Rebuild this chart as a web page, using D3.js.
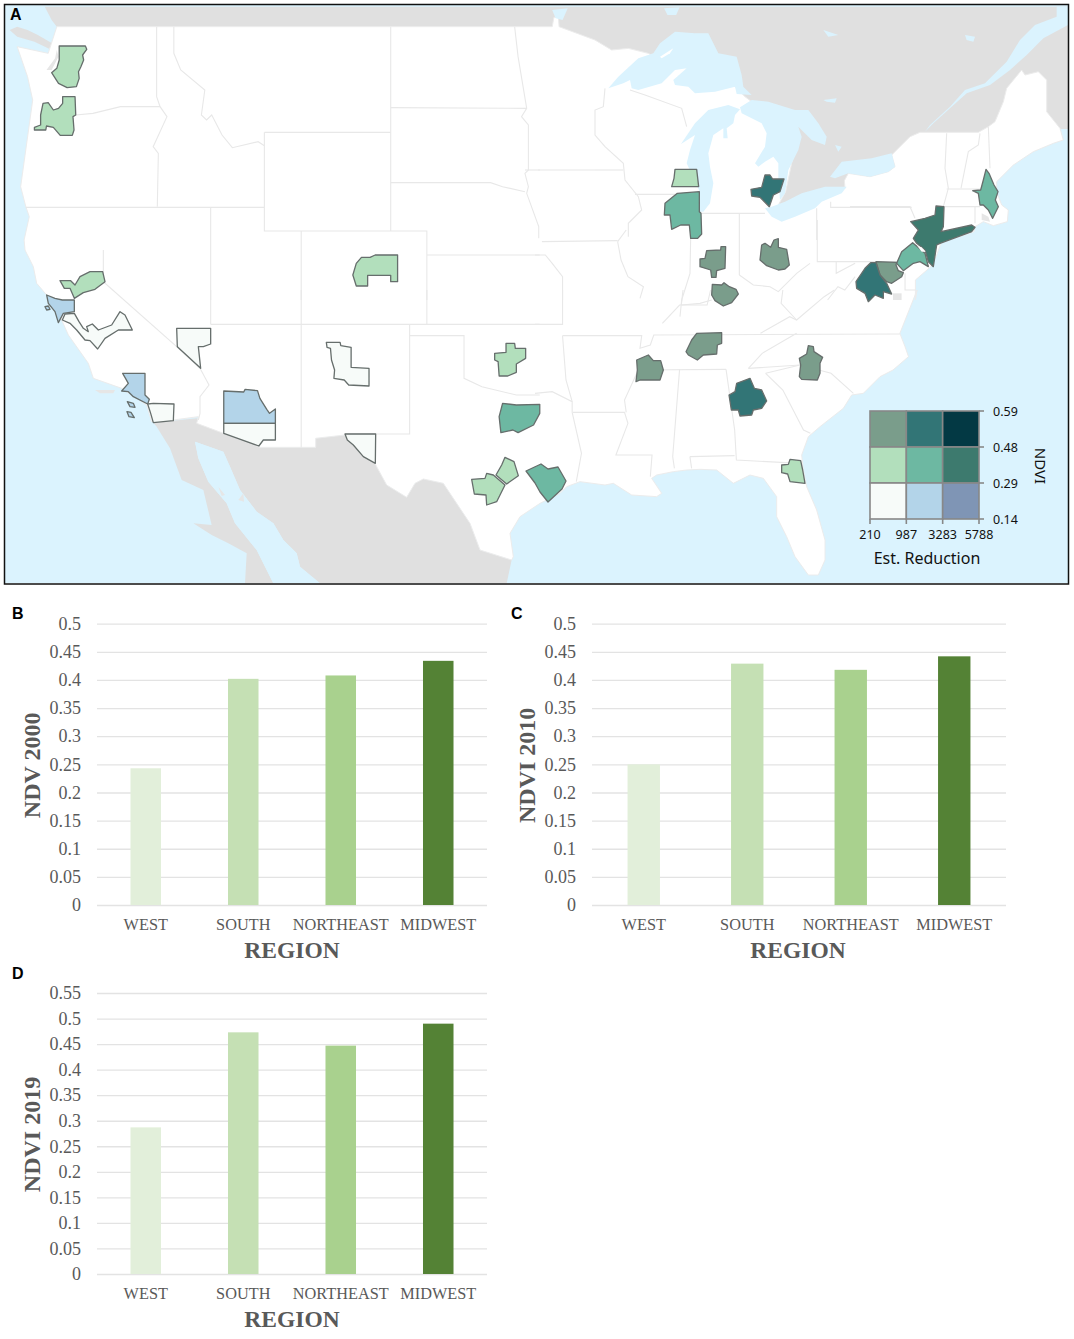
<!DOCTYPE html>
<html><head><meta charset="utf-8"><style>html,body{margin:0;padding:0;background:#fff}svg{display:block}</style>
<script src="https://cdn.jsdelivr.net/npm/d3@7/dist/d3.min.js"></script></head><body>
<svg id="c" width="1074" height="1339"></svg>
<script>
// ---------- bar chart data ----------
const regions=["WEST","SOUTH","NORTHEAST","MIDWEST"];
const ndvi2000=[0.243,0.402,0.408,0.434];
const ndvi2010=[0.25,0.429,0.418,0.442];
const ndvi2019=[0.287,0.473,0.447,0.49];
const barColors=["#e2efda","#c5e0b4","#a9d18e","#548235"];
const ticksBC=[0,0.05,0.1,0.15,0.2,0.25,0.3,0.35,0.4,0.45,0.5];
const ticksD=[0,0.05,0.1,0.15,0.2,0.25,0.3,0.35,0.4,0.45,0.5,0.55];
// ---------- bivariate legend ----------
const legendColors=[["#7a9d8b","#327576","#033944"],["#b2dfbc","#6db8a2","#3d7a6e"],["#f7fbf9","#b3d4e9","#7f95b5"]];
const legendX=["210","987","3283","5788"];
const legendY=["0.59","0.48","0.29","0.14"];
// ---------- map geometry: [panel, flat x,y list] (panel = read-off frame of the picture) ----------
const usOutline=[
["Z1",[50,140,140,160,165,80,1568,80]],
["Z2",[50,80,55,52,68,52,70,80]],
["G1",[0,60,50,90,100,85,160,100,200,125,300,150,400,180,450,230,470,245,520,285,600,310,610,360,590,430,572,515,550,555,560,565,600,570,680,525,750,505,748,482,760,460,825,470,880,455,900,440]],
["G2",[125,450,180,395,210,382,385,382,415,365,435,350,460,290,470,250,515,195,525,210,565,200,590,225,590,320,610,345,630,370,640,405,610,415,550,440,520,460,490,480,440,530,440,560,455,600,475,615,472,650,430,662,400,650,375,665,372,680]],
["Z2",[1180,728,1165,770,1150,800,1105,840,1105,900]],
["Z4",[1110,0,1060,130,1075,170,1085,200,1040,240]],
["G4",[960,140,910,190,875,195,850,235,780,290,745,320,725,375,730,420,740,470,770,540,795,630,795,690,775,735,745,735,705,680,680,620,650,560,650,500,610,445,570,435,520,460,470,420,420,418,380,420,340,425,290,435,275,445,305,490,290,500,215,495,160,460,135,465,60,455,20,470,0,490]],
["G6",[1200,280,1140,320,1110,370,1120,440,1115,450,1020,420,990,340,910,220,850,207,825,220,800,262,740,225,710,170,705,160,615,75,527,85,527,112,360,112,250,70,170,40,175,20,100,30]],
["G5",[440,515,425,465,350,415,265,385,250,340,190,255,170,210,130,160,125,135,95,100,85,50,60,0]],
["Z1",[70,720,85,650,75,620,60,560,95,300,80,230]]];
const canada=[["Z1",[130,20]],["G2",[620,5,654,5,654,372,630,372,560,330,450,420,200,450]],["G1",[700,540,530,600,300,300,0,150]],["Z1",[1400,150,165,150,165,80,150,60]]];
const vancouverIsland=[["Z1",[28,90,50,80,80,90,110,105,160,135,150,150,100,125,50,110]]];
const mexico=[["G6",[40,38,170,25,250,70,360,112,527,112,527,85,615,75,705,160,740,225,800,262,825,220,850,207,910,220,990,340,1020,420,1115,450,1100,520,540,520,480,470,470,430,430,390,400,340,350,305,300,240,270,170,250,125,165,95,175,145,205,215,260,280,285,340,350,420,400,520,315,520,320,430,265,400,215,375,160,340,215,345,190,240,125,210,90,115,50,50]]];
const lakes=[
[["G1",[40,205,70,170,130,115,175,100,195,70,240,35,300,40,340,40,370,100,425,110,440,165,445,200,470,225,425,222,420,200,360,215,300,220,280,200,240,195,235,180,275,145,240,150,200,190,130,210,110,205,105,180,85,190]]],
[["G1",[258,372,300,310,340,270,400,255,435,268,420,285,415,310,395,325,398,355,385,355,385,325,355,345,340,400,345,440,355,490,345,550,325,575,310,575,312,510,275,430,285,390,300,345]]],
[["G1",[435,262,470,240,520,245,600,270,640,270,670,310,695,350,690,375,650,360,610,320,620,350,610,390,580,450,570,520,555,540,550,480,550,430,535,410,510,425,490,440,480,430,510,380,515,340,500,310,440,280]]],
[["G1",[510,565,530,560,570,545,620,520,690,500,755,500,740,520,680,545,660,565,600,590,560,605,530,590]]],
[["G1",[705,470,740,425,830,415,890,400,900,440,880,455,825,470,760,460,720,475]]],
[["G2",[620,5,654,5,654,60,580,100,530,150,480,195,420,240,350,265,300,310,250,355,225,380,240,360,300,305,345,255,405,235,470,170,510,105,555,60,620,35]]],
[["G2",[345,90,375,95,370,110,350,105]]],[["G1",[685,30,730,45,700,50]]],[["G1",[685,240,725,235,720,248,695,245]]],[["G1",[720,375,740,380,730,395]]],
[["Z2",[50,30,95,25,80,60,60,55]]],[["Z2",[375,25,420,22,410,45,385,45]]],
[["G6",[165,95,250,125,270,170,300,240,350,305,400,340,430,390,470,430,480,470,540,520,400,520,350,420,285,340,260,280,205,215,175,145]]]
];
const whiteIslands=[[["G1",[195,110,235,85,225,100,200,115]]]];
const greyPatches=[[["G2",[395,625,415,635,420,650,395,645]]],[["Z2",[1040,880,1065,880,1065,900,1040,900]]],[["G5",[270,420,330,420,325,430,285,430]]],[["G6",[235,230,255,255,245,258]]],[["G6",[295,270,310,250,312,275]]],[["Z1",[135,210,160,175,165,150,170,170,150,210]]]];
const stateLines=[
["Z1",[455,80,455,290,465,320,485,350,445,440,460,460,457,620]],["Z1",[220,345,270,340,350,320,465,320]],["Z1",[75,622,768,622]],
["Z1",[505,80,505,160,525,210,595,270,585,345,600,360,615,345,645,405,675,443,750,425,768,437]],["Z1",[768,397,1135,397]],["Z1",[768,397,768,693,1240,693,1240,900]],["Z1",[1135,80,1135,693]],
["Z1",[1135,323,1530,325]],["Z1",[1135,548,1425,548,1460,560,1525,575]],["Z1",[1495,80,1505,170,1530,325,1515,350,1535,375,1535,510,1525,520,1535,560,1530,580,1565,680,1565,715]],["Z1",[1525,510,1568,510]],
["Z1",[875,693,875,900]],["Z1",[1240,765,1568,765]],["G5",[295,0,295,95,515,290,585,355,612,405,585,440,585,490,580,510]],["Z1",[612,622,612,900]],
["Z3",[612,0,612,103]],["Z3",[875,0,875,473]],["Z3",[1240,0,1240,103]],["Z3",[612,103,1190,103,1568,103]],["Z3",[1190,105,1190,432,1000,432]],["Z3",[1190,137,1348,137,1348,265,1400,290,1500,315,1568,315]],
["Z4",[0,310,50,305,108,335,108,367,135,490,120,575]],["Z4",[0,103,80,103,80,0]],["Z4",[80,137,90,270,108,335]],["Z2",[0,765,30,765,50,790,80,830,80,900]],
["Z4",[80,137,310,137,305,175,335,165,345,135,1060,132]],["Z4",[300,240,555,238]],["Z4",[620,235,770,225,860,250,925,310]],["Z4",[620,235,660,190,760,130]],["Z4",[670,250,720,300,780,420,800,430]],["Z4",[670,250,770,225]],
["Z4",[555,238,580,420,585,510,770,520]],["Z4",[450,500,580,497]],["Z4",[450,500,455,535]],["Z4",[420,238,400,500,405,535]],["Z4",[110,367,260,367,270,400,235,495,340,495,335,560]],["Z4",[300,240,260,330,265,367]],
["Z2",[20,725,240,722]],["G3",[122,235,120,340,95,420,90,470]],["G3",[268,160,268,345]],["G3",[155,160,345,160]],["G3",[268,345,310,375,360,380,385,395,440,340,480,310]],["G3",[95,435,150,430,185,420]],
["G1",[665,565,665,660]],["G1",[707,545,707,562,950,562]],["G2",[0,605,180,605,195,640]],["Z2",[820,660,820,785,1050,785]],
["G1",[30,205,25,260,0,270,0,345,30,380,85,430,90,480,130,530,140,570,100,610,100,650]],["G1",[105,210,150,225,260,265,275,320]],["G1",[120,523,240,523]],["G1",[0,450,85,450]],["G1",[0,450,-170,450]],
["Z2",[240,725,250,780,270,830,315,860,305,895]],["Z2",[265,690,240,725]],
["Z4",[425,45,430,0]],["Z4",[370,100,420,45,500,45,510,0]],["Z4",[720,0,715,40,760,90]],["Z4",[655,130,740,80,760,90,840,20,870,0]],["Z2",[850,900,880,860,900,870,930,830]],["Z2",[875,785,875,820,930,790]],["Z2",[1075,820,1075,870,1105,870]],
["G2",[290,385,285,490,295,550,280,605]],["G2",[390,385,385,420,355,440,333,550]],["G2",[415,365,420,490]],["G2",[290,552,395,552]],["G2",[285,605,390,605]],["G2",[375,605,375,655]]];
const metros=[
["l",["Z1",[172,138,248,138,252,148,240,165,243,180,235,200,228,215,230,235,222,260,195,263,170,250,150,218,165,205,172,180]]],
["l",["Z1",[182,290,218,290,220,345,212,350,215,390,210,406,175,406,155,382,135,378,133,390,100,390,100,382,118,375,118,345,125,310,140,308,155,330,170,325,182,310]]],
["l",["Z1",[1090,765,1155,765,1155,845,1135,845,1135,826,1068,826,1068,858,1035,858,1025,825,1035,790,1050,772,1075,772]]],
["l",["G5",[165,92,197,92,210,105,225,80,255,65,293,65,300,95,270,118,235,128,208,145,195,115,178,115]]],
["b",["G5",[125,135,150,145,172,150,208,150,208,185,175,190,160,218,150,185,130,160]]],
["b",["G5",[120,170,130,168,135,178,125,180]]],
["w",["G5",[172,210,180,192,208,190,222,215,235,235,250,245,245,230,262,222,280,240,320,225,345,185,360,195,382,240,340,240,300,265,278,297,255,272,240,270,215,240,195,220]]],
["w",["G5",[515,235,617,235,617,282,595,290,580,290,587,355,517,290]]],
["b",["G5",[353,370,420,370,420,435,433,448,428,462,385,440,370,425,350,423,370,400]]],
["b",["G5",[367,455,385,460,390,472,375,470]]],["b",["G5",[366,485,378,487,388,503,372,500]]],
["w",["G5",[428,462,445,460,507,462,505,512,445,518,437,490]]],
["b",["Z3",[650,303,708,306,712,298,748,302,755,325,775,358,783,370,800,357,800,400,650,400]]],
["w",["Z3",[650,400,800,400,800,450,765,450,752,468,650,430]]],
["w",["Z3",[948,157,988,157,990,167,1020,172,1020,232,1072,235,1072,288,1013,285,1000,270,970,265,972,240,963,210,960,175,950,172]]],
["w",["G6",[615,72,707,72,706,160,670,140,640,105,622,90]]],
["l",["Z3",[1470,160,1495,160,1497,175,1527,175,1527,205,1500,222,1500,247,1475,258,1450,258,1447,215,1437,210,1437,190,1470,187]]],
["m",["Z3",[1460,340,1500,345,1568,343,1568,370,1550,405,1505,428,1490,420,1455,428,1450,380]]],
["l",["G6",[1095,142,1122,155,1135,197,1100,222,1068,195,1085,165]]],
["l",["G6",[995,208,1035,205,1040,190,1060,195,1095,225,1070,275,1040,285,1038,255,1003,252]]],
["m",["Z0",[526,471,541,464,548,469,558,467,566,481,562,489,548,502,540,492,535,483]]],
["l",["G3",[75,28,140,28,146,80,65,80,72,55]]],
["m",["G3",[45,130,82,100,148,95,148,155,153,160,155,222,143,235,122,235,118,195,92,195,65,208,60,165,43,165]]],
["t",["G3",[345,45,360,45,368,57,402,57,390,95,370,105,358,140,330,112,305,108,303,88,335,82]]],
["g",["G3",[150,297,165,295,170,272,212,270,213,260,227,260,225,325,200,332,198,352,185,352,182,330,150,320]]],
["g",["G3",[335,255,345,250,362,262,372,240,385,236,385,262,410,268,418,315,405,327,385,330,350,317,330,300]]],
["g",["G3",[187,373,215,375,222,368,238,380,258,388,265,402,245,428,220,438,195,422,185,405]]],
["d",["Z6",[288,168,312,170,310,230,303,245,395,225,405,232,395,245,300,280,290,285,280,350,265,335,255,300,230,280,220,265,235,240,212,215,255,205,285,195]]],
["m",["Z6",[218,278,255,310,265,350,240,335,220,340,190,362,170,340,185,305]]],
["g",["Z6",[108,335,170,337,168,345,175,362,190,368,185,380,155,400,140,395,120,375]]],
["t",["Z6",[92,338,108,338,120,375,140,400,155,432,130,425,130,445,105,435,85,455,75,430,50,415,48,395,75,355]]],
["m",["Z6",[438,58,447,70,462,105,474,125,466,150,475,170,458,205,445,180,430,165,420,165,415,130,398,122,422,120,430,90]]],
["g",["G4",[410,10,485,8,485,40,472,45,470,72,430,75,412,90,385,75,378,65,395,30]]],
["g",["G4",[230,90,265,75,280,92,302,92,310,120,300,150,240,150,228,155,232,120]]],
["g",["G4",[745,47,760,50,762,65,788,82,780,100,780,130,772,150,725,148,718,140,722,105,718,85,740,72]]],
["t",["G4",[530,160,570,145,583,175,605,180,620,213,605,235,580,240,575,255,540,258,535,240,514,240,507,195,525,185]]],
["l",["G4",[665,405,685,403,690,388,722,392,728,420,735,460,690,455,683,432,665,428]]]
];
const metroHoles=[["Z6",[232,288,245,292,257,305,245,305]]];
const metroFill={w:"#f7fbf9",b:"#b3d4e9",l:"#b2dfbc",m:"#6db8a2",g:"#7a9d8b",t:"#327576",d:"#3d7a6e"};

// ---------- drawing ----------
const svg=d3.select("#c");
const panelScales={};
function panel(name,ox,oy,kx,ky){panelScales[name]={x:d3.scaleLinear().domain([0,kx]).range([ox,ox+1]),y:d3.scaleLinear().domain([0,ky]).range([oy,oy+1])};}
panel("Z0",0,0,1,1);panel("Z1",0,0,2.905,3);panel("Z2",535,0,2.905,3);panel("Z3",0,290,2.905,3);panel("Z4",535,290,2.905,3);panel("Z6",840,150,3,3);
panel("G1",595,20,3,3);panel("G2",850,5,3,3);panel("G3",650,160,3,3);panel("G4",560,330,3,3);panel("G5",5,250,3,3);panel("G6",140,410,3,3);
function pts(segs){const out=[];segs.forEach(([p,a])=>{const s=panelScales[p];for(let i=0;i<a.length;i+=2)out.push([s.x(a[i]),s.y(a[i+1])]);});return out;}
const closed=d3.line().curve(d3.curveLinearClosed),open=d3.line();

const defs=svg.append("defs");
defs.append("clipPath").attr("id","mapclip").append("rect").attr("x",5).attr("y",5).attr("width",1063).attr("height",578);
const map=svg.append("g").attr("clip-path","url(#mapclip)");
map.append("rect").attr("x",4).attr("y",4).attr("width",1065).attr("height",580).attr("fill","#dbf3fe");
const grey="#e0e0e0";
map.append("path").attr("d",closed(pts(canada))).attr("fill",grey);
map.append("path").attr("d",closed(pts(vancouverIsland))).attr("fill",grey);
map.append("path").attr("d",closed(pts(mexico))).attr("fill",grey);
map.append("path").attr("d",closed(pts(usOutline))).attr("fill","#fff").attr("stroke","#ececec").attr("stroke-width",1);
map.selectAll("path.lake").data(lakes).join("path").attr("class","lake").attr("d",d=>closed(pts(d))).attr("fill","#dbf3fe");
map.selectAll("path.wi").data(whiteIslands).join("path").attr("class","wi").attr("d",d=>closed(pts(d))).attr("fill","#fff");
map.selectAll("path.gp").data(greyPatches).join("path").attr("class","gp").attr("d",d=>closed(pts(d))).attr("fill","#e6e6e6");
map.selectAll("path.st").data(stateLines).join("path").attr("class","st").attr("d",d=>open(pts([d]))).attr("fill","none").attr("stroke","#e8e8e8").attr("stroke-width",1.1);
map.selectAll("path.metro").data(metros).join("path").attr("class","metro").attr("d",d=>closed(pts([d[1]]))).attr("fill",d=>metroFill[d[0]]).attr("stroke","#666e6c").attr("stroke-width",1.3).attr("stroke-linejoin","round");
map.selectAll("path.hole").data(metroHoles).join("path").attr("class","hole").attr("d",d=>closed(pts([d]))).attr("fill","#fff");
svg.append("rect").attr("x",4.5).attr("y",4.5).attr("width",1064).attr("height",579.5).attr("fill","none").attr("stroke","#111").attr("stroke-width",1.5);

// legend
const legFont="'Noto Sans',sans-serif";
const lx=d3.scaleLinear().domain([0,3]).range([870,979]);
const ly=d3.scaleLinear().domain([0,3]).range([411,519]);
const lg=svg.append("g");
legendColors.forEach((row,r)=>row.forEach((c,i)=>{
  lg.append("rect").attr("x",lx(i)).attr("y",ly(r)).attr("width",lx(i+1)-lx(i)).attr("height",ly(r+1)-ly(r)).attr("fill",c).attr("stroke","#888").attr("stroke-width",1.6);
}));
legendY.forEach((t,i)=>{
  lg.append("line").attr("x1",979).attr("x2",984).attr("y1",ly(i)).attr("y2",ly(i)).attr("stroke","#888").attr("stroke-width",1.6);
  lg.append("text").attr("x",993).attr("y",ly(i)+4.5).text(t).attr("font-family",legFont).attr("font-size",12.5).attr("fill","#111");
});
legendX.forEach((t,i)=>{
  lg.append("line").attr("x1",lx(i)).attr("x2",lx(i)).attr("y1",519).attr("y2",524).attr("stroke","#888").attr("stroke-width",1.6);
  lg.append("text").attr("x",lx(i)).attr("y",539).attr("text-anchor","middle").text(t).attr("font-family",legFont).attr("font-size",12.5).attr("fill","#111");
});
lg.append("text").attr("x",927).attr("y",564).attr("text-anchor","middle").text("Est. Reduction").attr("font-family",legFont).attr("font-size",16).attr("fill","#111");
lg.append("text").attr("transform","translate(1035,466) rotate(90)").attr("text-anchor","middle").text("NDVI").attr("font-family",legFont).attr("font-size",15).attr("fill","#111");

// bar panels
const serif="'Liberation Serif',serif";
function barPanel(o){
  const x=d3.scaleBand().domain(regions).range([o.x0,o.x1]).paddingInner(0.687).paddingOuter(0.3435);
  const y=d3.scaleLinear().domain([0,o.max]).range([o.y0,o.y1]);
  const g=svg.append("g");
  const ax=g.append("g").attr("transform",`translate(${o.x0},0)`).call(d3.axisLeft(y).tickValues(o.ticks).tickFormat(d3.format("~g")).tickSize(-(o.x1-o.x0)).tickPadding(16));
  ax.select(".domain").remove();
  ax.selectAll("line").attr("stroke","#e3e3e3").attr("stroke-width",1.3);
  ax.selectAll("text").attr("font-family",serif).attr("font-size",18).attr("fill","#595959");
  g.selectAll("rect").data(regions).join("rect").attr("x",d=>x(d)).attr("width",x.bandwidth()).attr("y",(d,i)=>y(o.values[i])).attr("height",(d,i)=>o.y0-y(o.values[i])).attr("fill",(d,i)=>barColors[i]);
  const bx=g.append("g").attr("transform",`translate(0,${o.y0})`).call(d3.axisBottom(x).tickSize(0).tickPadding(13));
  bx.select(".domain").remove();
  bx.selectAll("text").attr("font-family",serif).attr("font-size",16.3).attr("fill","#595959");
  g.append("text").attr("x",(o.x0+o.x1)/2+o.rOff).attr("y",o.y0+53).attr("text-anchor","middle").text("REGION").attr("font-family",serif).attr("font-weight","bold").attr("font-size",23.5).attr("fill","#595959");
  g.append("text").attr("transform",`translate(${o.tx},${(o.y0+o.y1)/2+1}) rotate(-90)`).attr("text-anchor","middle").text(o.title).attr("font-family",serif).attr("font-weight","bold").attr("font-size",24).attr("fill","#595959");
}
barPanel({x0:97,x1:487,y0:905,y1:623.7,max:0.5,ticks:ticksBC,values:ndvi2000,title:"NDV 2000",tx:40,rOff:0});
barPanel({x0:592,x1:1006,y0:905,y1:623.7,max:0.5,ticks:ticksBC,values:ndvi2010,title:"NDVI 2010",tx:535,rOff:-1});
barPanel({x0:97,x1:487,y0:1274,y1:993,max:0.55,ticks:ticksD,values:ndvi2019,title:"NDVI 2019",tx:40,rOff:0});

// panel letters
[["A",10,20],["B",12,619],["C",511,619],["D",12,979]].forEach(([t,x,y])=>{
  svg.append("text").attr("x",x).attr("y",y).text(t).attr("font-family","'Liberation Sans',sans-serif").attr("font-weight","bold").attr("font-size",16).attr("fill","#000");
});
</script></body></html>
